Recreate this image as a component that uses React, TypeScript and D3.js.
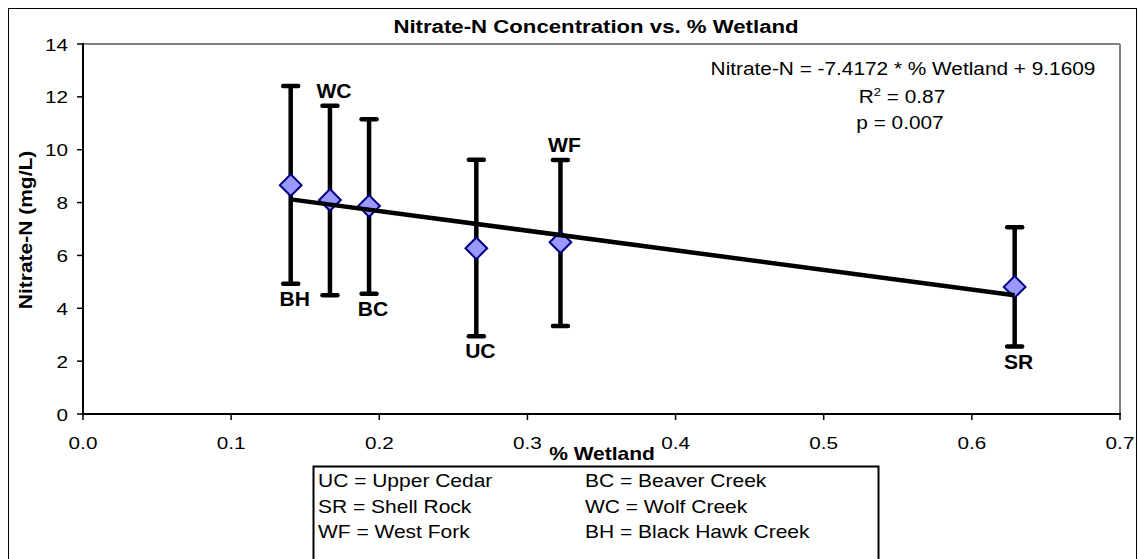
import React from "react";
import * as d3 from "d3";

const sites = ["BH", "WC", "BC", "UC", "WF", "SR"];
const wetland = [0.1402, 0.1667, 0.1931, 0.2655, 0.3223, 0.6289];
const nitrate = [8.66, 8.1, 7.87, 6.27, 6.5, 4.81];
const upper = [12.41, 11.66, 11.15, 9.62, 9.61, 7.07];
const lower = [4.93, 4.49, 4.55, 2.94, 3.33, 2.55];
const labelPlacement = ["below", "above", "below", "below", "above", "below"];
const slope = -7.4172;
const intercept = 9.1609;
const xTicks = [0, 0.1, 0.2, 0.3, 0.4, 0.5, 0.6, 0.7];
const yTicks = [0, 2, 4, 6, 8, 10, 12, 14];
const legendLeft = ["UC = Upper Cedar", "SR = Shell Rock", "WF = West Fork"];
const legendRight = ["BC = Beaver Creek", "WC = Wolf Creek", "BH = Black Hawk Creek"];
const titleText = "Nitrate-N Concentration vs. % Wetland";
const xTitle = "% Wetland";
const yTitle = "Nitrate-N (mg/L)";
const eqText = "Nitrate-N = -7.4172 * % Wetland + 9.1609";
const r2Text = "0.87";
const pText = "p = 0.007";

const FONT = "'Liberation Sans', Arial, sans-serif";

export default function App() {
  const W = 1139, H = 559;
  const plot = { l: 83, r: 1120, t: 44, b: 414 };
  const x = d3.scaleLinear().domain([0, 0.7]).range([plot.l, plot.r]);
  const y = d3.scaleLinear().domain([0, 14]).range([plot.b, plot.t]);
  const xExt = d3.extent(wetland) as [number, number];
  const trend = d3.line<number>().x((v) => x(v)).y((v) => y(slope * v + intercept));
  const diamond = d3.symbol().type(d3.symbolDiamond2).size(300)();

  const T = (
    props: { x: number; y: number; sx?: number; size: number; bold?: boolean; anchor?: string; rotate?: number; children: React.ReactNode }
  ) => (
    <text
      transform={`translate(${props.x},${props.y})${props.rotate ? ` rotate(${props.rotate})` : ""} scale(${props.sx ?? 1.2},1)`}
      fontFamily={FONT}
      fontSize={props.size}
      fontWeight={props.bold ? "bold" : "normal"}
      textAnchor={props.anchor ?? "middle"}
      fill="#000"
    >
      {props.children}
    </text>
  );

  return (
    <svg width={W} height={H} style={{ position: "absolute", left: 0, top: 0, background: "#fff" }}>
      <rect x={0} y={0} width={W} height={H} fill="#fff" />
      <rect x={8.5} y={8.5} width={1128} height={600} fill="none" stroke="#000" strokeWidth={1} />
      <T x={596} y={33} size={18.5} bold>{titleText}</T>

      {/* plot area frame */}
      <line x1={plot.l} x2={plot.r} y1={plot.t} y2={plot.t} stroke="#808080" strokeWidth={2} />
      <line x1={plot.r} x2={plot.r} y1={plot.t} y2={plot.b} stroke="#808080" strokeWidth={2} />
      <line x1={plot.l} x2={plot.l} y1={plot.t - 1} y2={plot.b} stroke="#000" strokeWidth={2} />
      <line x1={plot.l - 1} x2={plot.r + 1} y1={plot.b} y2={plot.b} stroke="#000" strokeWidth={2} />

      {yTicks.map((t) => (
        <g key={"y" + t}>
          <line x1={plot.l - 6} x2={plot.l} y1={y(t)} y2={y(t)} stroke="#000" strokeWidth={1.5} />
          <T x={68} y={y(t) + 6.5} size={17} sx={1.22} anchor="end">{t}</T>
        </g>
      ))}
      {xTicks.map((t) => (
        <g key={"x" + t}>
          <line x1={x(t)} x2={x(t)} y1={plot.b} y2={plot.b + 6} stroke="#000" strokeWidth={1.5} />
          <T x={x(t)} y={449} size={17} sx={1.22}>{t.toFixed(1)}</T>
        </g>
      ))}
      <T x={602} y={460} size={17.5} bold>{xTitle}</T>
      <T x={32} y={230} size={17.5} bold rotate={-90}>{yTitle}</T>

      {/* error bars */}
      {sites.map((s, i) => (
        <g key={"e" + s} stroke="#000" strokeWidth={4.5} strokeLinecap="round">
          <line x1={x(wetland[i])} x2={x(wetland[i])} y1={y(upper[i])} y2={y(lower[i])} strokeLinecap="butt" />
          <line x1={x(wetland[i]) - 7.5} x2={x(wetland[i]) + 7.5} y1={y(upper[i])} y2={y(upper[i])} />
          <line x1={x(wetland[i]) - 7.5} x2={x(wetland[i]) + 7.5} y1={y(lower[i])} y2={y(lower[i])} />
        </g>
      ))}
      {/* markers */}
      {sites.map((s, i) => (
        <path key={"m" + s} d={diamond as string} transform={`translate(${x(wetland[i])},${y(nitrate[i])})`}
          fill="#9999FF" stroke="#000080" strokeWidth={2} />
      ))}
      {/* trend line */}
      <path d={trend(xExt) as string} fill="none" stroke="#000" strokeWidth={4.5} />

      {/* point labels */}
      {sites.map((s, i) => (
        <T key={"l" + s} x={x(wetland[i]) + 4}
          y={labelPlacement[i] === "above" ? y(upper[i]) - 8 : y(lower[i]) + 22}
          size={19.5} sx={1.08} bold>{s}</T>
      ))}

      {/* equation */}
      <T x={903} y={75} size={17.5} sx={1.19}>{eqText}</T>
      <text transform={`translate(902,103) scale(1.19,1)`} fontFamily={FONT} fontSize={17.5} textAnchor="middle">
        R<tspan fontSize={11} dy={-7}>2</tspan><tspan dy={7}>{" = " + r2Text}</tspan>
      </text>
      <T x={900} y={129} size={17.5} sx={1.19}>{pText}</T>

      {/* legend box */}
      <rect x={313.5} y={466.5} width={565} height={200} fill="#fff" stroke="#000" strokeWidth={2} />
      {legendLeft.map((t, i) => (
        <T key={"ll" + i} x={318} y={487 + i * 25.5} size={17.5} anchor="start">{t}</T>
      ))}
      {legendRight.map((t, i) => (
        <T key={"lr" + i} x={585} y={487 + i * 25.5} size={17.5} anchor="start">{t}</T>
      ))}
    </svg>
  );
}
